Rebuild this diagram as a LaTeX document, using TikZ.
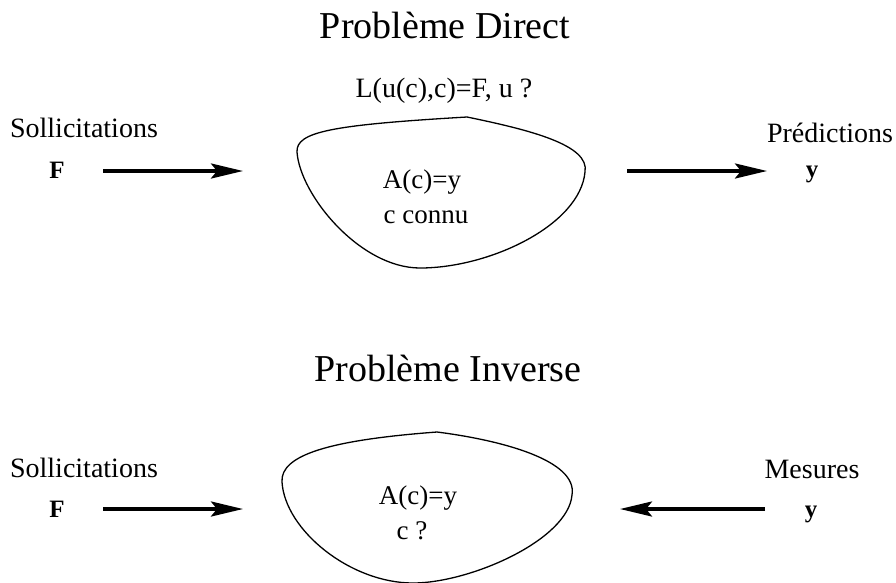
\documentclass[tikz,border=0pt]{standalone}
\usepackage{fontspec}
\setmainfont{Liberation Serif}
\usetikzlibrary{arrows.meta}
\tikzset{
  lbl/.style={font=\fontsize{28}{30}\selectfont, inner sep=0pt, anchor=base},
  inlbl/.style={font=\fontsize{27}{29}\selectfont, inner sep=0pt, anchor=base},
  ttl/.style={font=\fontsize{38}{40}\selectfont, inner sep=0pt, anchor=base},
  bld/.style={font=\fontsize{25}{27}\selectfont\bfseries, inner sep=0pt, anchor=base},
  flow/.style={line width=3.5pt, -{Stealth[length=32pt,width=15pt,inset=6pt]}},
  blob/.style={line width=1.3pt, black},
}
\begin{document}
\begin{tikzpicture}[x=1pt,y=-1pt]
\useasboundingbox (0,0) rectangle (896,582);
% ---------- Direct problem ----------
\node[ttl] (t1) at (445,38) {Problème Direct};
\node[lbl] (eq) at (444,97) {L(u(c),c)=F, u ?};
\node[lbl] (s1) at (84,137) {Sollicitations};
\node[bld] (f1) at (57,178) {F};
\node[lbl] (p1) at (830,142) {Prédictions};
\node[bld] (y1) at (812,177) {y};
\draw[blob] (297,152) .. controls (296,132) and (330,125) .. (467,117)
  .. controls (530,130) and (590,145) .. (585,172)
  .. controls (580,225) and (490,268) .. (420,268)
  .. controls (360,268) and (300,195) .. (297,152) -- cycle;
\node[inlbl] (a1) at (422,188) {A(c)=y};
\node[inlbl] (c1) at (426,223) {c connu};
\coordinate (a1s) at (103,171);
\coordinate (a1e) at (243,171);
\coordinate (a2s) at (627,171);
\coordinate (a2e) at (767,171);
\draw[flow] (a1s) -- (a1e);
\draw[flow] (a2s) -- (a2e);
% ---------- Inverse problem ----------
\node[ttl] (t2) at (448,381) {Problème Inverse};
\node[lbl] (s2) at (84,477) {Sollicitations};
\node[bld] (f2) at (57,517) {F};
\node[lbl] (m2) at (812,478) {Mesures};
\node[bld] (y2) at (811,517) {y};
\draw[blob] (282,482) .. controls (280,455) and (330,440) .. (437,432)
  .. controls (500,440) and (578,460) .. (572,495)
  .. controls (568,540) and (470,583) .. (413,583)
  .. controls (350,583) and (285,530) .. (282,482) -- cycle;
\node[inlbl] (a2) at (418,504) {A(c)=y};
\node[inlbl] (c2) at (412,539) {c ?};
\coordinate (b1s) at (103,509);
\coordinate (b1e) at (243,509);
\coordinate (b2s) at (765,509);
\coordinate (b2e) at (620,509);
\draw[flow] (b1s) -- (b1e);
\draw[flow] (b2s) -- (b2e);
\end{tikzpicture}
\end{document}
